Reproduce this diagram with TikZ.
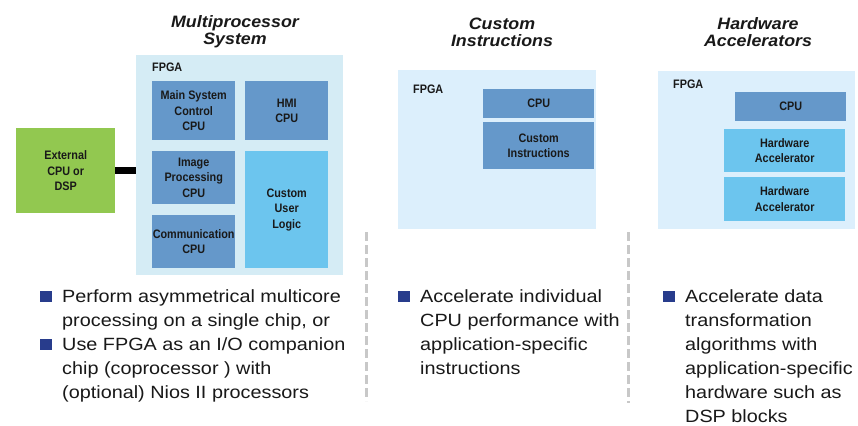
\documentclass[tikz,border=0pt]{standalone}
\usepackage{fontspec}
\setmainfont{Liberation Sans}
\newfontfamily\boxfont[FakeStretch=0.88]{Liberation Sans}
\newfontfamily\bulfont[FakeStretch=1.12]{Liberation Sans}
\newfontfamily\titlefont[FakeStretch=1.08]{Liberation Sans}
\definecolor{mpbg}{RGB}{213,236,245}
\definecolor{pbg}{RGB}{220,239,252}
\definecolor{dkbox}{RGB}{101,152,202}
\definecolor{ltbox}{RGB}{108,197,238}
\definecolor{grn}{RGB}{146,200,80}
\definecolor{bulc}{RGB}{40,60,140}
\definecolor{txt}{RGB}{25,25,25}
\definecolor{dashc}{RGB}{200,200,200}
\begin{document}
\begin{tikzpicture}[x=1pt,y=-1pt,
  panel/.style={draw=none,inner sep=0,anchor=north west},
  cell/.style={draw=none,inner sep=0,anchor=north west,align=center,text=txt,
    font=\boxfont\bfseries\fontsize{12.3}{15.6}\selectfont},
  dkcell/.style={cell,fill=dkbox},
  ltcell/.style={cell,fill=ltbox},
  lbl/.style={inner sep=0,anchor=west,text=txt,font=\boxfont\bfseries\fontsize{12.3}{15}\selectfont},
  ttl/.style={inner sep=0,align=center,text=txt,font=\titlefont\bfseries\itshape\fontsize{16.5}{17}\selectfont},
  bul/.style={fill=bulc,inner sep=0,minimum size=11.5,anchor=north west},
  btxt/.style={inner sep=0,anchor=north west,align=left,text=txt,font=\bulfont\fontsize{17.7}{24.05}\selectfont},
  sep/.style={draw=dashc,line width=3pt,dash pattern=on 9pt off 4pt}]
\useasboundingbox (0,0) rectangle (858,425);
\fill[white] (0,0) rectangle (858,425);

% Multiprocessor system
\node[ttl] (t1) at (235,32) {Multiprocessor\\System};
\node[panel,fill=mpbg,minimum width=207,minimum height=220] (mp) at (136,55) {};
\node[lbl] (f1) at (152,67) {FPGA};
\node[dkcell,minimum width=83,minimum height=59] (msc) at (152,81) {Main System\\Control\\CPU};
\node[dkcell,minimum width=83,minimum height=59] (hmi) at (245,81) {HMI\\CPU};
\node[dkcell,minimum width=83,minimum height=53] (img) at (152,151) {Image\\Processing\\CPU};
\node[dkcell,minimum width=83,minimum height=53] (com) at (152,215) {Communication\\CPU};
\node[ltcell,minimum width=83,minimum height=117] (cul) at (245,151) {Custom\\User\\Logic};
\node[cell,fill=grn,minimum width=99,minimum height=85] (ext) at (16,128) {External\\CPU or\\DSP};
\draw[line width=6.5pt] (ext.east) -- (ext.east -| mp.west);

% Custom instructions
\node[ttl] (t2) at (502,32) {Custom\\Instructions};
\node[panel,fill=pbg,minimum width=198,minimum height=159] (ci) at (398,70) {};
\node[lbl] (f2) at (413,89) {FPGA};
\node[dkcell,minimum width=111,minimum height=29] (cpu2) at (483,89) {CPU};
\node[dkcell,minimum width=111,minimum height=47] (cins) at (483,122) {Custom\\Instructions};

% Hardware accelerators
\node[ttl] (t3) at (758,32) {Hardware\\Accelerators};
\node[panel,fill=pbg,minimum width=197,minimum height=158] (ha) at (658,71) {};
\node[lbl] (f3) at (673,84) {FPGA};
\node[dkcell,minimum width=111,minimum height=29] (cpu3) at (735,92) {CPU};
\node[ltcell,minimum width=121,minimum height=43] (ha1) at (724,129) {Hardware\\Accelerator};
\node[ltcell,minimum width=121,minimum height=44] (ha2) at (724,177) {Hardware\\Accelerator};

% separators
\coordinate (s1a) at (366,232); \coordinate (s1b) at (366,401);
\coordinate (s2a) at (628,232); \coordinate (s2b) at (628,403);
\draw[sep] (s1a) -- (s1b);
\draw[sep] (s2a) -- (s2b);

% bullets
\node[bul] (b1) at (40,290.5) {};
\node[btxt] (x1) at (62,285.7) {\strut Perform asymmetrical multicore\\processing on a single chip, or};
\node[bul] (b2) at (40,338.6) {};
\node[btxt] (x2) at (62,333.8) {\strut Use FPGA as an I/O companion\\chip (coprocessor ) with\\(optional) Nios II processors};
\node[bul] (b3) at (398,290.5) {};
\node[btxt] (x3) at (420,285.7) {\strut Accelerate individual\\CPU performance with\\application-specific\\instructions};
\node[bul] (b4) at (663,290.5) {};
\node[btxt] (x4) at (685,285.7) {\strut Accelerate data\\transformation\\algorithms with\\application-specific\\hardware such as\\DSP blocks};
\end{tikzpicture}
\end{document}
